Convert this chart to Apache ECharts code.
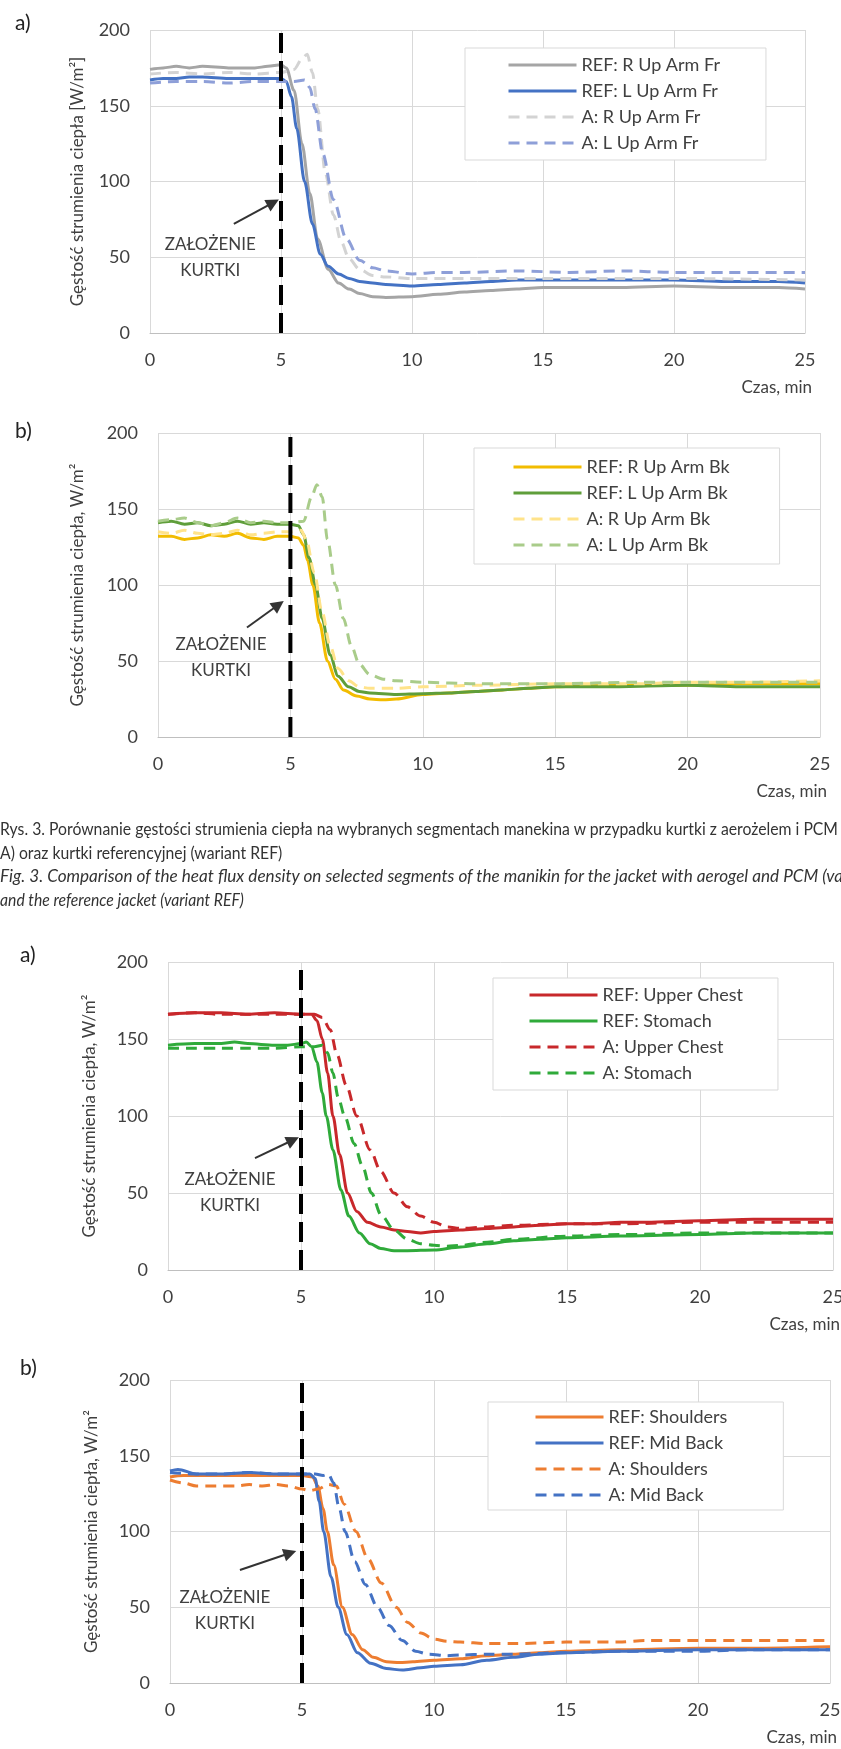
<!DOCTYPE html>
<html>
<head>
<meta charset="utf-8">
<script src="https://cdn.jsdelivr.net/npm/echarts@6/dist/echarts.min.js"></script>
<style>
  html, body { margin: 0; padding: 0; background: #fff; }
  #chart { width: 841px; height: 1749px; }
  #caption {
    position: absolute; left: 0; top: 817px; width: 841px; overflow: hidden;
    font-family: Lato, "Noto Sans", sans-serif; font-size: 18px; line-height: 23.6px;
    color: #333; white-space: nowrap;
  }
  #caption .ln { transform-origin: 0 0; width: max-content; }
  #caption .it { font-style: italic; }
</style>
</head>
<body>
<div id="chart"></div>
<div id="caption">
  <div class="ln" id="l1">Rys. 3. Porównanie gęstości strumienia ciepła na wybranych segmentach manekina w przypadku kurtki z aerożelem i PCM</div>
  <div class="ln" id="l2">A) oraz kurtki referencyjnej (wariant REF)</div>
  <div class="ln it" id="l3"><span id="l3a">Fig. 3. Comparison of the heat flux density on selected segments of the manikin for the jacket with aerogel and PCM (va</span>riant A)</div>
  <div class="ln it" id="l4">and the reference jacket (variant REF)</div>
</div>
<script>
// czas w minutach, gęstość strumienia ciepła w W/m2

// a) przód ramienia
const refRUpArmFr = [[0,174],[0.5,175],[1,176],[1.5,175],[2,176],[3,175],[4,175],[4.5,176],[5,177],[5.2,175],[5.5,160],[5.8,125],[6.1,92],[6.4,62],[6.8,42],[7.2,33],[7.6,29],[8,26],[8.5,24],[9,23.5],[10,24],[11,25.5],[12,27],[13,28],[14,29],[15,30],[16,30],[18,30],[20,31],[22,30],[24,30],[25,29]];
const refLUpArmFr = [[0,167],[0.5,168],[1,168],[1.5,169],[2,169],[3,168],[4,168],[5,168],[5.2,166],[5.4,156],[5.6,135],[5.9,100],[6.2,72],[6.5,52],[6.8,44],[7.2,39],[7.6,36],[8,34],[8.5,33],[9,32],[10,31],[11,32],[12,33],[13,34],[14,35],[15,35],[16,35],[18,35],[20,35],[22,34],[24,34],[25,33]];
const aRUpArmFr = [[0,171],[1,172],[2,171],[3,172],[4,171],[5,172],[5.5,174],[5.8,181],[6,184],[6.2,172],[6.4,148],[6.7,105],[7,78],[7.3,60],[7.6,49],[8,42],[8.5,38],[9,37],[10,36],[12,36],[15,36],[18,36],[20,36],[25,35]];
const aLUpArmFr = [[0,165],[1,166],[2,166],[3,165],[4,166],[5,166],[5.5,166],[5.9,167],[6.1,162],[6.3,148],[6.6,118],[7,88],[7.5,62],[8,48],[8.5,43],[9,41],[10,39],[11,40],[12,40],[14,41],[16,40],[18,41],[20,40],[22,40],[25,40]];

// b) tył ramienia
const refRUpArmBk = [[0,132],[0.5,132],[1,130],[1.5,131],[2,133],[2.5,132],[3,134],[3.5,131],[4,130],[4.5,132],[5,132],[5.3,131],[5.5,126],[5.65,116],[5.85,100],[6.1,75],[6.4,50],[6.7,38],[7,31],[7.5,27],[8,25],[8.5,24.5],[9,25],[10,28],[11,29],[12,30],[13,31],[14,32],[15,33],[17,34],[20,34],[22,35],[25,35]];
const refLUpArmBk = [[0,141],[0.5,142],[1,140],[1.5,141],[2,139],[2.5,140],[3,142],[3.5,140],[4,141],[4.5,140],[5,140],[5.3,139],[5.5,133],[5.7,118],[5.95,100],[6.2,78],[6.5,54],[6.8,40],[7.2,33],[7.6,30],[8,29],[9,28],[10,28.5],[11,29],[12,30],[13,31],[14,32],[15,33],[17,33],[20,34],[22,33],[25,33]];
const aRUpArmBk = [[0,135],[0.5,134],[1,136],[1.5,134],[2,133],[2.5,134],[3,136],[3.5,133],[4,134],[4.5,135],[5,135],[5.4,136],[5.6,130],[5.9,108],[6.2,82],[6.5,60],[6.8,45],[7.2,37],[7.6,33],[8,32],[9,32],[10,33],[12,34],[15,35],[18,35],[20,36],[22,36],[25,37]];
const aLUpArmBk = [[0,142],[0.5,143],[1,144],[1.5,141],[2,139],[2.5,141],[3,144],[3.5,141],[4,142],[4.5,141],[5,141],[5.5,142],[5.8,158],[6,166],[6.2,158],[6.4,130],[6.7,100],[7,78],[7.3,60],[7.6,48],[8,41],[8.5,38],[9,37],[10,36],[12,35],[15,35],[18,36],[20,36],[25,36]];

// a) klatka piersiowa i brzuch
const refUpperChest = [[0,166],[1,167],[2,167],[3,166],[4,167],[5,166],[5.4,166],[5.6,162],[5.8,150],[6,128],[6.2,100],[6.45,75],[6.75,50],[7.1,38],[7.5,31],[8,28],[8.5,26],[9,25],[9.5,24],[10,25],[11,26],[12,27],[13,28],[14,29],[15,30],[16,30],[17,31],[18,31],[20,32],[22,33],[23,33],[25,33]];
const refStomach = [[0,146],[1,147],[2,147],[2.5,148],[3,147],[4,146],[4.5,146],[5,147],[5.2,148],[5.4,145],[5.6,135],[5.8,115],[5.95,100],[6.2,78],[6.5,52],[6.8,35],[7.2,24],[7.6,17],[8,14],[8.5,12.5],[9,12.5],[10,13],[11,15],[12,17],[13,19],[14,20],[15,21],[17,22],[20,23],[22,24],[25,24]];
const aUpperChest = [[0,166],[1,167],[2,166],[3,166],[4,166],[5,166],[5.5,166],[5.8,164],[6.1,156],[6.35,140],[6.7,120],[7.1,100],[7.6,78],[8,64],[8.5,50],[9,41],[9.5,35],[10,31],[10.5,28],[11,27],[12,28],[13,29],[15,30],[17,30],[20,31],[22,31],[25,31]];
const aStomach = [[0,144],[1,144],[2,144],[3,144],[4,144],[5,145],[5.5,145],[5.8,146],[6,141],[6.2,128],[6.4,112],[6.64,100],[7,82],[7.3,68],[7.65,50],[8,36],[8.5,26],[9,20],[9.5,17],[10,16],[10.5,15.5],[11,16],[12,18],[13,20],[15,22],[17,23],[20,24],[22,24],[25,24]];

// b) barki i środek pleców
const refShoulders = [[0,136],[0.5,137],[1,137],[2,137],[3,137],[4,137],[5,137],[5.4,136],[5.6,130],[5.8,115],[5.96,100],[6.2,78],[6.53,50],[6.9,32],[7.3,22],[7.7,17],[8.2,14],[8.7,13.5],[9.2,14],[10,15],[11,16],[12,18],[13,19],[14,20],[15,21],[17,22],[20,23],[22,23],[25,24]];
const refMidBack = [[0,140],[0.3,141],[1,138],[2,138],[3,139],[4,138],[5,138],[5.3,138],[5.5,135],[5.65,120],[5.82,100],[6.1,70],[6.37,50],[6.7,32],[7.1,20],[7.6,13],[8.2,9.5],[8.8,8.5],[9.5,10],[10,11],[11,12],[12,15],[13,17],[14,19],[15,20],[17,21],[20,22],[22,22],[25,22]];
const aShoulders = [[0,134],[0.5,132],[1,130],[1.5,130],[2,130],[2.5,130],[3,131],[3.5,130],[4,131],[4.5,130],[5,128],[5.3,127],[5.6,128],[6,131],[6.3,130],[6.6,118],[7.04,100],[7.5,82],[8,66],[8.57,50],[9,40],[9.5,33],[10,29],[10.5,27.5],[11,27],[12,26],[13,26],[15,27],[17,27],[18,28],[20,28],[22,28],[25,28]];
const aMidBack = [[0,139],[1,138],[2,138],[3,139],[4,138],[5,138],[5.5,138],[5.8,137],[6,138],[6.2,132],[6.4,116],[6.63,100],[7,80],[7.4,65],[7.86,50],[8.3,38],[8.8,28],[9.3,21],[9.8,19],[10.5,18],[11,18.5],[12,19],[13,19],[15,20],[17,21],[20,21],[22,22],[25,22]];

// moment założenia kurtki i opis
const jacketOnTime = 5;
const jacketLabel = 'ZAŁOŻENIE\nKURTKI';
const xTicks = { min: 0, max: 25, interval: 5 };
const yTicks = { min: 0, max: 200, interval: 50 };

const FONT = 'Lato, "Noto Sans", sans-serif';
const TXT = '#404040';

const panels = [
  {
    tag: 'a)', tagPos: [15, 13],
    grid: { left: 150, top: 30, width: 655, height: 303 },
    yName: 'Gęstość strumienia ciepła [W/m²]', nameGap: 64,
    legend: { left: 465, top: 48, padding: [8, 46, 8, 42] },
    labelAt: [2.3, 50], arrow: [[3.2, 72], [4.7, 86]],
    lines: [
      ['REF: R Up Arm Fr', refRUpArmFr, '#a5a5a5', false],
      ['REF: L Up Arm Fr', refLUpArmFr, '#4472c4', false],
      ['A: R Up Arm Fr', aRUpArmFr, '#d3d3d3', true],
      ['A: L Up Arm Fr', aLUpArmFr, '#8e9fd8', true]
    ]
  },
  {
    tag: 'b)', tagPos: [15, 421],
    grid: { left: 158, top: 433, width: 662, height: 304 },
    yName: 'Gęstość strumienia ciepła, W/m²', nameGap: 72,
    legend: { left: 474, top: 448, padding: [10, 50, 10, 38] },
    labelAt: [2.38, 52], arrow: [[3.36, 72], [4.55, 87]],
    lines: [
      ['REF: R Up Arm Bk', refRUpArmBk, '#f2bc00', false],
      ['REF: L Up Arm Bk', refLUpArmBk, '#5f9e3a', false],
      ['A: R Up Arm Bk', aRUpArmBk, '#ffe38a', true],
      ['A: L Up Arm Bk', aLUpArmBk, '#a9cc8a', true]
    ]
  },
  {
    tag: 'a)', tagPos: [20, 945],
    grid: { left: 168, top: 962, width: 665, height: 308 },
    yName: 'Gęstość strumienia ciepła, W/m²', nameGap: 70,
    legend: { left: 493, top: 978, padding: [8, 35, 8, 35] },
    labelAt: [2.33, 50], arrow: [[3.27, 72.7], [4.7, 84.4]],
    lines: [
      ['REF: Upper Chest', refUpperChest, '#c8282b', false],
      ['REF: Stomach', refStomach, '#2faa3a', false],
      ['A: Upper Chest', aUpperChest, '#c8282b', true],
      ['A: Stomach', aStomach, '#2faa3a', true]
    ]
  },
  {
    tag: 'b)', tagPos: [20, 1358],
    grid: { left: 170, top: 1380, width: 660, height: 303 },
    yName: 'Gęstość strumienia ciepła, W/m²', nameGap: 70,
    legend: { left: 488, top: 1402, padding: [6, 56, 6, 46] },
    labelAt: [2.08, 48], arrow: [[2.65, 74.6], [4.55, 85.8]],
    lines: [
      ['REF: Shoulders', refShoulders, '#ed7d31', false],
      ['REF: Mid Back', refMidBack, '#4472c4', false],
      ['A: Shoulders', aShoulders, '#ed7d31', true],
      ['A: Mid Back', aMidBack, '#4472c4', true]
    ]
  }
];

const grids = [], xAxes = [], yAxes = [], legends = [], series = [], graphics = [];

panels.forEach((p, i) => {
  grids.push(Object.assign({ outerBoundsMode: 'none', containLabel: false }, p.grid));

  xAxes.push(Object.assign({
    type: 'value', gridIndex: i,
    name: 'Czas, min', nameLocation: 'end', nameGap: 7,
    nameTextStyle: { align: 'right', verticalAlign: 'top', padding: [46, 0, 0, 0], fontSize: 17, color: TXT, fontFamily: FONT },
    axisLine: { show: true, lineStyle: { color: '#bfbfbf', width: 1 } },
    axisTick: { show: false },
    axisLabel: { margin: 18, fontSize: 18, color: TXT, fontFamily: FONT },
    splitLine: { show: true, lineStyle: { color: '#d9d9d9', width: 1 } }
  }, xTicks));

  yAxes.push(Object.assign({
    type: 'value', gridIndex: i,
    name: p.yName, nameLocation: 'middle', nameRotate: 90, nameGap: p.nameGap,
    nameTextStyle: { fontSize: 17, color: TXT, fontFamily: FONT },
    axisLine: { show: false },
    axisTick: { show: false },
    axisLabel: { margin: 20, fontSize: 18, color: TXT, fontFamily: FONT },
    splitLine: { show: true, lineStyle: { color: '#d9d9d9', width: 1 } }
  }, yTicks));

  legends.push({
    orient: 'vertical', left: p.legend.left, top: p.legend.top, padding: p.legend.padding,
    data: p.lines.map(l => l[0]),
    itemWidth: 68, itemHeight: 14, itemGap: 8,
    itemStyle: { opacity: 0, borderWidth: 0 },
    lineStyle: { width: 3, opacity: 1 },
    backgroundColor: '#fff', borderColor: '#d9d9d9', borderWidth: 1,
    textStyle: { fontSize: 18, color: TXT, fontFamily: FONT },
    selectedMode: false
  });

  p.lines.forEach(([name, data, color, dashed]) => {
    series.push({
      name, type: 'line', xAxisIndex: i, yAxisIndex: i,
      data, symbol: 'none', showSymbol: false,
      smooth: 0.3, smoothMonotone: 'x',
      color,
      lineStyle: { color, width: 3, type: dashed ? [11, 7] : 'solid' },
      z: dashed ? 3 : 2
    });
  });

  // pionowa linia przerywana w chwili założenia kurtki, ze strzałką i opisem
  series.push({
    type: 'line', xAxisIndex: i, yAxisIndex: i,
    data: [[jacketOnTime, yTicks.min], [jacketOnTime, yTicks.max]],
    symbol: 'none', silent: true, z: 6,
    lineStyle: { color: '#000', width: 4, type: [20, 8] },
    markLine: {
      silent: true, symbol: ['none', 'triangle'], symbolSize: 13,
      lineStyle: { color: '#333', width: 2, type: 'solid' },
      label: { show: false },
      data: [[{ coord: p.arrow[0] }, { coord: p.arrow[1] }]]
    },
    markPoint: {
      silent: true, symbol: 'circle', symbolSize: 1,
      itemStyle: { color: 'rgba(0,0,0,0)' },
      label: { show: true, position: 'inside', formatter: jacketLabel, fontSize: 17, lineHeight: 26, color: TXT, fontFamily: FONT },
      data: [{ coord: p.labelAt }]
    }
  });

  graphics.push({
    type: 'text', left: p.tagPos[0], top: p.tagPos[1],
    style: { text: p.tag, fontSize: 21, fill: '#222', fontFamily: FONT }
  });
});

const chart = echarts.init(document.getElementById('chart'));
chart.setOption({
  animation: false,
  backgroundColor: '#fff',
  grid: grids, xAxis: xAxes, yAxis: yAxes,
  legend: legends, series, graphic: graphics
});

// podpis: dopasowanie szerokości do wąskiego kroju oryginału
const w1 = document.getElementById('l1').getBoundingClientRect().width;
const k = 838 / w1;
['l1', 'l2', 'l4'].forEach(id => { document.getElementById(id).style.transform = 'scaleX(' + k + ')'; });
const w3 = document.getElementById('l3a').getBoundingClientRect().width;
document.getElementById('l3').style.transform = 'scaleX(' + (843 / w3) + ')';
</script>
</body>
</html>
